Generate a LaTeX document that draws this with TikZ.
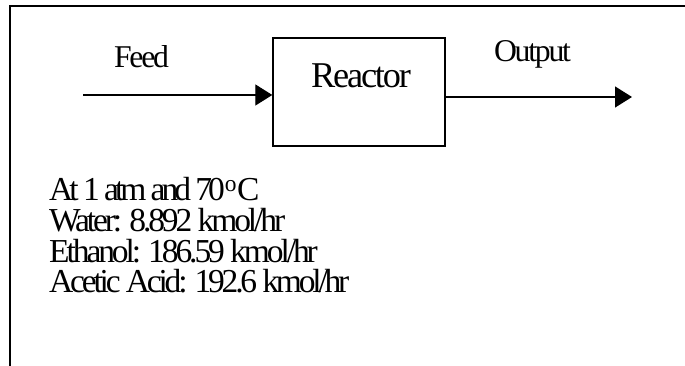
\documentclass[tikz,border=0pt]{standalone}
\usepackage{fontspec}
\setmainfont{Liberation Serif}
\usetikzlibrary{arrows.meta,positioning}

\tikzset{
  flow/.style={line width=1.3pt,-{Triangle[length=17pt,width=21pt]}},
  unit/.style={draw,line width=1.4pt,minimum width=172pt,minimum height=108pt},
  tag/.style={inner sep=0pt,anchor=base,font=\fontsize{31.7}{32}\selectfont\addfontfeature{LetterSpace=-7}},
  spec/.style={inner sep=0pt,anchor=base west,font=\fontsize{33.5}{31}\selectfont\addfontfeature{LetterSpace=#1}},
  spec/.default=-9.2,
}

\begin{document}
\begin{tikzpicture}[x=1pt,y=1pt]
  \useasboundingbox (0,0) rectangle (685,366);
  % frame
  \draw[line width=2pt] (10,0) -- (10,360) -- (685,360);
  % reactor
  \node[unit] (reactor) at (359,274) {};
  \node[inner sep=0pt,anchor=base,font=\fontsize{36.3}{37}\selectfont\addfontfeature{LetterSpace=-6}] (reactorname) at (361,278) {Reactor};
  % streams
  \coordinate (feedin) at (83,271);
  \coordinate (outend) at (632,269);
  \draw[flow] (feedin) -- (feedin -| reactor.west);
  \draw[flow] (outend -| reactor.east) -- (outend);
  \node[tag] (feed) at (141.5,298) {Feed};
  \node[tag] (output) at (532.5,304) {Output};
  % conditions
  \node[spec=-12] (cond) at (49,165.3) {At 1 atm and 70\textsuperscript{o}C};
  \node[spec] (water) at (49,134) {Water: 8.892 kmol/hr};
  \node[spec] (ethanol) at (49,103.3) {Ethanol: 186.59 kmol/hr};
  \node[spec=-9.5] (acid) at (49,73) {Acetic Acid: 192.6 kmol/hr};
\end{tikzpicture}
\end{document}
